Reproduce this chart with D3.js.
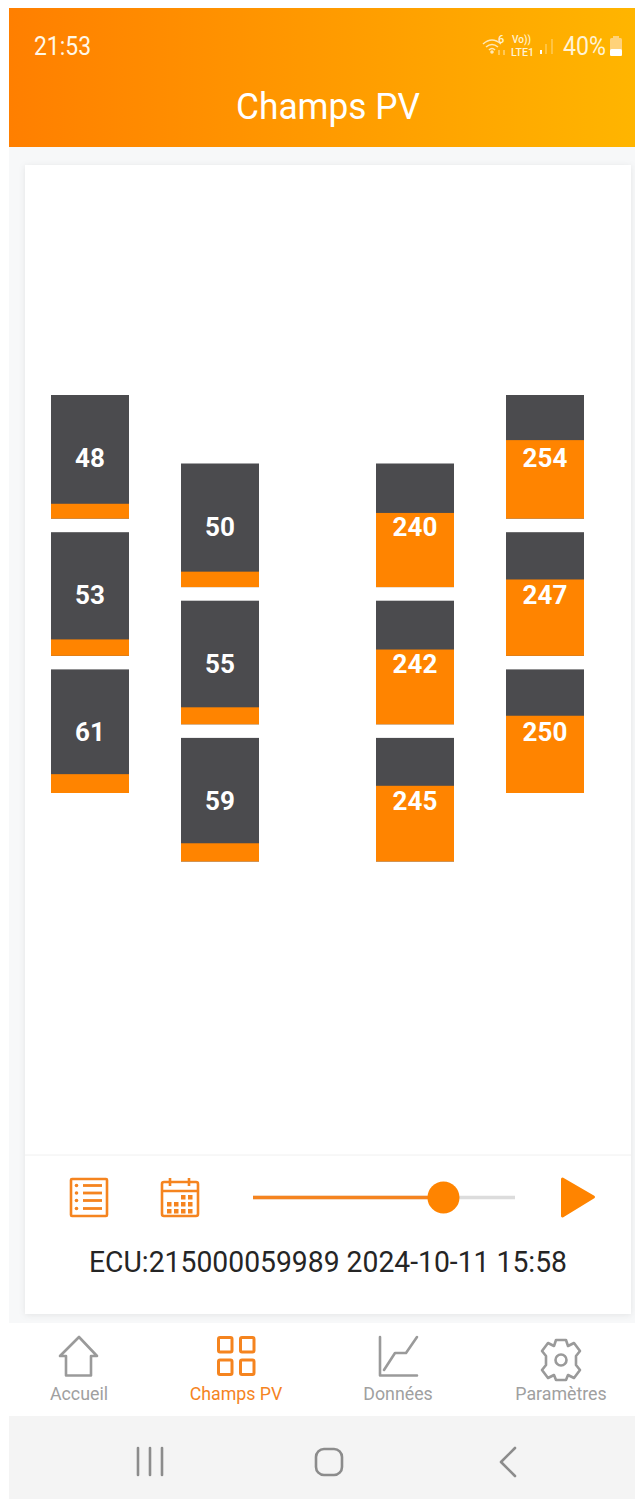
<!DOCTYPE html>
<html>
<head>
<meta charset="utf-8">
<script src="https://d3js.org/d3.v7.min.js"></script>
<style>
  html, body { margin: 0; padding: 0; background: #fff; }
  svg { display: block; }
  text { font-family: Roboto, sans-serif; }
</style>
</head>
<body>
<script>
// values of the panels, one list per column
var columns = ["A", "B", "C", "D"];
var columnA = [48, 53, 61];
var columnB = [50, 55, 59];
var columnC = [240, 242, 245];
var columnD = [254, 247, 250];
var maxPower = 400;

var navLabels = ["Accueil", "Champs PV", "Données", "Paramètres"];
var clockLabel = "21:53";
var batteryLabel = "40%";
var titleLabel = "Champs PV";
var ecuLabel = "ECU:215000059989 2024-10-11 15:58";
var sliderValue = 0.727;

var orange = "#ff8400", dark = "#4b4b4e", grey = "#9a9a9a", iconOrange = "#f5841f";

var width = 635, height = 1499;

var panels = [];
[columnA, columnB, columnC, columnD].forEach(function(list, c) {
  list.forEach(function(v, r) {
    panels.push({column: columns[c], row: r, value: v});
  });
});

// the outer columns sit higher than the inner ones
var xScale = d3.scaleOrdinal().domain(columns).range([51, 181, 376, 506]);
var offsetScale = d3.scaleOrdinal().domain(columns).range([395, 463.5, 463.5, 395]);
var rowScale = d3.scaleLinear().domain([0, 1]).range([0, 137.2]);
var panelWidth = 78, panelHeight = 123.6;
var fillScale = d3.scaleLinear().domain([0, maxPower]).range([0, panelHeight]);

var svg = d3.select("body").append("svg")
    .attr("width", width)
    .attr("height", height);

var defs = svg.append("defs");
var grad = defs.append("linearGradient").attr("id", "head");
grad.append("stop").attr("offset", "0%").attr("stop-color", "#ff7f00");
grad.append("stop").attr("offset", "100%").attr("stop-color", "#ffb500");
var shadow = defs.append("filter").attr("id", "shadow")
    .attr("x", "-3%").attr("y", "-3%").attr("width", "106%").attr("height", "106%");
shadow.append("feDropShadow").attr("dx", 0).attr("dy", 1).attr("stdDeviation", 3)
    .attr("flood-color", "#000").attr("flood-opacity", 0.08);

// fond
svg.append("rect").attr("x", 9).attr("y", 147).attr("width", width - 9).attr("height", 1176).attr("fill", "#f7f8f9");
svg.append("rect").attr("x", 9).attr("y", 8).attr("width", width - 9).attr("height", 139).attr("fill", "url(#head)");
svg.append("rect").attr("x", 25).attr("y", 165).attr("width", 606).attr("height", 1149).attr("fill", "#fff").attr("filter", "url(#shadow)");
svg.append("line").attr("x1", 25).attr("x2", 631).attr("y1", 1155).attr("y2", 1155).attr("stroke", "#f0f0f0");
svg.append("rect").attr("x", 9).attr("y", 1323).attr("width", width - 9).attr("height", 93).attr("fill", "#fff");
svg.append("rect").attr("x", 9).attr("y", 1416).attr("width", width - 9).attr("height", 83).attr("fill", "#f4f4f4");

// status bar
var head = svg.append("g").attr("fill", "#fff");
head.append("text").attr("x", 34).attr("y", 55).attr("font-size", 25.5).attr("textLength", 57)
    .attr("lengthAdjust", "spacingAndGlyphs").attr("fill", "#fff8e8").text(clockLabel);
head.append("text").attr("x", 563).attr("y", 55).attr("font-size", 25.5).attr("textLength", 43)
    .attr("lengthAdjust", "spacingAndGlyphs").attr("fill", "#fff3d6").text(batteryLabel);
head.append("text").attr("x", 236).attr("y", 119).attr("font-size", 37).attr("textLength", 184)
    .attr("lengthAdjust", "spacingAndGlyphs").text(titleLabel);

var statusIcons = svg.append("g").attr("fill", "none").attr("stroke", "#ffe9b8").attr("stroke-width", 1.6);
statusIcons.append("path").attr("d", "M483 44 Q492 36 501 44 M486 47 Q492 42 498 47 M489 50 Q492 47 495 50");
statusIcons.append("circle").attr("cx", 492).attr("cy", 52).attr("r", 1).attr("fill", "#ffe9b8");
statusIcons.append("path").attr("d", "M499 55 V50 M504 50 V55").attr("opacity", 0.6);
statusIcons.append("path").attr("d", "M541 54 V50").attr("stroke", "#fff").attr("stroke-width", 2);
statusIcons.append("path").attr("d", "M546 54 V44 M552 54 V39").attr("stroke-width", 1.3).attr("opacity", 0.55);
var statusText = svg.append("g").attr("fill", "#fff2d0").attr("font-weight", 500);
statusText.append("text").attr("x", 498).attr("y", 43).attr("font-size", 11).text("6");
statusText.append("text").attr("x", 512).attr("y", 42.5).attr("font-size", 10).text("Vo))");
statusText.append("text").attr("x", 511).attr("y", 56).attr("font-size", 11).attr("textLength", 23)
    .attr("lengthAdjust", "spacingAndGlyphs").text("LTE1");
svg.append("rect").attr("x", 610).attr("y", 38).attr("width", 12).attr("height", 18).attr("rx", 1.5).attr("fill", "#ffd27a");
svg.append("rect").attr("x", 613).attr("y", 36).attr("width", 6).attr("height", 3).attr("fill", "#ffd27a");
svg.append("rect").attr("x", 610).attr("y", 49).attr("width", 12).attr("height", 7).attr("rx", 1.5).attr("fill", "#fff");

// panneaux
var panel = svg.selectAll("g.panel")
    .data(panels)
    .enter().append("g")
    .attr("class", "panel")
    .attr("transform", function(d) {
      return "translate(" + xScale(d.column) + "," + (offsetScale(d.column) + rowScale(d.row)) + ")";
    });

panel.append("rect")
    .attr("width", panelWidth)
    .attr("height", panelHeight)
    .attr("fill", dark);

panel.append("rect")
    .attr("y", function(d) { return panelHeight - fillScale(d.value); })
    .attr("width", panelWidth)
    .attr("height", function(d) { return fillScale(d.value); })
    .attr("fill", orange);

panel.append("text")
    .attr("x", panelWidth / 2)
    .attr("y", 72)
    .attr("text-anchor", "middle")
    .attr("font-size", 26)
    .attr("font-weight", 700)
    .attr("fill", "#fff")
    .text(function(d) { return d.value; });

// barre d'outils
var tools = svg.append("g").attr("fill", "none").attr("stroke", iconOrange).attr("stroke-width", 2.6);
tools.append("rect").attr("x", 71).attr("y", 1179).attr("width", 36).attr("height", 37).attr("rx", 1);
[1185.5, 1193, 1200.5, 1208.5].forEach(function(y) {
  tools.append("line").attr("x1", 83).attr("x2", 102).attr("y1", y).attr("y2", y).attr("stroke-width", 2.8);
  tools.append("circle").attr("cx", 76.5).attr("cy", y).attr("r", 1.8).attr("fill", iconOrange).attr("stroke", "none");
});
tools.append("rect").attr("x", 162).attr("y", 1182).attr("width", 36).attr("height", 34).attr("rx", 2);
tools.append("line").attr("x1", 162).attr("x2", 198).attr("y1", 1191).attr("y2", 1191);
tools.append("line").attr("x1", 170).attr("x2", 170).attr("y1", 1178).attr("y2", 1186);
tools.append("line").attr("x1", 189).attr("x2", 189).attr("y1", 1178).attr("y2", 1186);
[[167, 1202], [174, 1202], [181, 1202], [188, 1202], [167, 1209], [174, 1209], [181, 1209], [188, 1209], [181, 1195], [188, 1195]].forEach(function(p) {
  tools.append("rect").attr("x", p[0]).attr("y", p[1]).attr("width", 4.5).attr("height", 4.5).attr("fill", iconOrange).attr("stroke", "none");
});

var sliderScale = d3.scaleLinear().domain([0, 1]).range([253, 515]);
svg.append("line").attr("x1", sliderScale(0)).attr("x2", sliderScale(1)).attr("y1", 1197.5).attr("y2", 1197.5).attr("stroke", "#dcdcdc").attr("stroke-width", 3.5);
svg.append("line").attr("x1", sliderScale(0)).attr("x2", sliderScale(sliderValue)).attr("y1", 1197.5).attr("y2", 1197.5).attr("stroke", iconOrange).attr("stroke-width", 3.5);
svg.append("circle").attr("cx", sliderScale(sliderValue)).attr("cy", 1197.5).attr("r", 16).attr("fill", orange);
svg.append("path").attr("d", "M562.5 1179 L593.5 1197 L562.5 1216 Z").attr("fill", orange).attr("stroke", orange).attr("stroke-width", 3).attr("stroke-linejoin", "round");

svg.append("text").attr("x", 89).attr("y", 1272).attr("font-size", 29).attr("textLength", 478)
    .attr("lengthAdjust", "spacingAndGlyphs").attr("fill", "#252525").text(ecuLabel);

// navigation
var navX = d3.scaleOrdinal().domain(navLabels).range([79, 236, 398, 561]);
svg.selectAll("text.nav")
    .data(navLabels)
    .enter().append("text")
    .attr("class", "nav")
    .attr("x", function(d) { return navX(d); })
    .attr("y", 1400)
    .attr("text-anchor", "middle")
    .attr("font-size", 17.8)
    .attr("fill", function(d, i) { return i == 1 ? iconOrange : "#a0a0a0"; })
    .text(function(d) { return d; });

var navIcons = svg.append("g").attr("fill", "none").attr("stroke", grey).attr("stroke-width", 2.6).attr("stroke-linejoin", "round").attr("stroke-linecap", "round");
navIcons.append("path").attr("d", "M79 1337 L60 1356 H66 V1375.5 H91 V1356 H97 Z");
navIcons.append("path").attr("d", "M380 1337 V1375.5 H417 M384 1370 L395 1353 H406 L417 1337");
navIcons.append("path").attr("d", "M556 1340 H566 L568 1346 L574 1343 L580 1351 L576 1356 V1365 L580 1370 L574 1378 L568 1375 L566 1380 H556 L554 1375 L548 1378 L542 1370 L546 1365 V1356 L542 1351 L548 1343 L554 1346 Z");
navIcons.append("circle").attr("cx", 561).attr("cy", 1360).attr("r", 5.5);

var navActive = svg.append("g").attr("fill", "none").attr("stroke", iconOrange).attr("stroke-width", 3);
[[218.5, 1337.5], [240.5, 1337.5], [218.5, 1360], [240.5, 1360]].forEach(function(p) {
  navActive.append("rect").attr("x", p[0]).attr("y", p[1]).attr("width", 13.5).attr("height", 14.5).attr("rx", 1.5);
});

// boutons android
var android = svg.append("g").attr("fill", "none").attr("stroke", "#8c8c8c").attr("stroke-width", 2.6).attr("stroke-linecap", "round").attr("stroke-linejoin", "round");
[138, 150, 162].forEach(function(x) {
  android.append("line").attr("x1", x).attr("x2", x).attr("y1", 1448).attr("y2", 1475);
});
android.append("rect").attr("x", 316).attr("y", 1449).attr("width", 26).attr("height", 26).attr("rx", 8);
android.append("path").attr("d", "M515 1448 L501 1462 L515 1476");
</script>
</body>
</html>
